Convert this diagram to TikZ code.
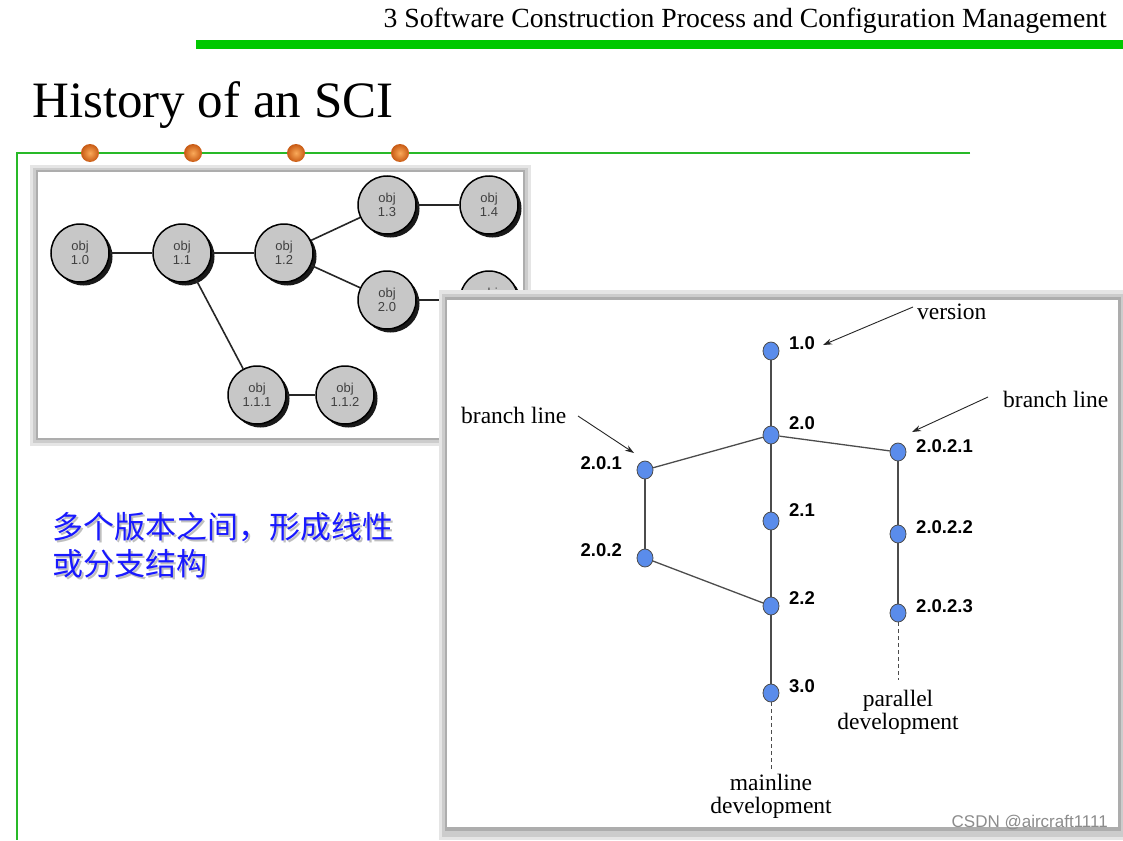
\documentclass[tikz,border=0pt]{standalone}
\usepackage{fontspec}
\setmainfont{Liberation Serif}
\newfontfamily\cjk{Noto Sans CJK SC}
\newfontfamily\arial{Liberation Sans}
\usetikzlibrary{arrows.meta,shadows,shapes.geometric}
\definecolor{hdrgreen}{RGB}{0,200,0}
\definecolor{thingreen}{RGB}{40,185,40}
\definecolor{dotorange}{RGB}{232,118,38}
\definecolor{dotlight}{RGB}{250,170,90}
\definecolor{dotdark}{RGB}{200,90,20}
\definecolor{vblue}{RGB}{90,140,235}
\definecolor{cnblue}{RGB}{25,25,255}
\begin{document}
\begin{tikzpicture}[x=1pt,y=-1pt,
  objnode/.style={circle, draw=black, line width=1.5pt, fill=black!22, minimum size=58pt, inner sep=0pt,
    font=\arial\fontsize{13}{14.5}\selectfont, text=black!75, align=center,
    drop shadow={shadow xshift=3.5pt, shadow yshift=-3.5pt, fill=black, opacity=0.9}},
  objline/.style={draw=black!85, line width=1.6pt},
  ver/.style={ellipse, draw=black!70, line width=0.8pt, fill=vblue, minimum width=16pt, minimum height=18pt, inner sep=0pt},
  vlab/.style={font=\arial\bfseries\fontsize{18.5}{19}\selectfont, inner sep=0pt},
  note/.style={font=\fontsize{23.5}{23}\selectfont, inner sep=0pt, align=center},
  vline/.style={draw=black!70, line width=1.3pt},
  noteArrow/.style={draw=black!85, line width=0.9pt, -{Stealth[length=9pt,width=6pt]}},
  dline/.style={draw=black!70, line width=1pt, dash pattern=on 4pt off 3pt},
  odot/.style={circle, inner sep=0pt, minimum size=18pt, inner color=dotlight, outer color=dotdark, draw=none}
]
\useasboundingbox (0,0) rectangle (1123,840);
\fill[white] (0,0) rectangle (1123,840);

% header
\node[anchor=east, inner sep=0pt, font=\fontsize{27.7}{28}\selectfont] (hdr) at (1107,21) {3 Software Construction Process and Configuration Management};
\fill[hdrgreen] (196,40) rectangle (1123,49);

% title
\node[anchor=west, inner sep=0pt, font=\fontsize{51}{51}\selectfont] (title) at (32,105) {History of an SCI};

% thin green frame lines
\draw[thingreen, line width=1.1pt] (970,153) -- (17,153) -- (17,840);
\foreach \i/\x in {1/90,2/193,3/296,4/400} \node[odot] (od\i) at (\x,153) {};

% left panel
\fill[black!10] (30,165) rectangle (531,446);
\fill[black!20] (33,168) rectangle (528,443);
\fill[black!32] (36,170) rectangle (525,440);
\fill[white] (38,172) rectangle (523,438);

\node[objnode] (o10) at (80,253) {obj\\1.0};
\node[objnode] (o11) at (182,253) {obj\\1.1};
\node[objnode] (o12) at (284,253) {obj\\1.2};
\node[objnode] (o13) at (387,205) {obj\\1.3};
\node[objnode] (o14) at (489,205) {obj\\1.4};
\node[objnode] (o20) at (387,300) {obj\\2.0};
\node[objnode] (o21) at (489,300) {obj\\2.1};
\node[objnode] (o111) at (257,395) {obj\\1.1.1};
\node[objnode] (o112) at (345,395) {obj\\1.1.2};
\draw[objline] (o10) -- (o11);
\draw[objline] (o11) -- (o12);
\draw[objline] (o12) -- (o13);
\draw[objline] (o13) -- (o14);
\draw[objline] (o12) -- (o20);
\draw[objline] (o20) -- (o21);
\draw[objline] (o11) -- (o111);
\draw[objline] (o111) -- (o112);

% Chinese text
\node[anchor=north west, inner sep=0pt, align=left, text=black!25, font=\cjk\fontsize{31}{37}\selectfont] (cnsh) at (54,514) {多个版本之间，形成线性\\或分支结构};
\node[anchor=north west, inner sep=0pt, align=left, text=cnblue, font=\cjk\fontsize{31}{37}\selectfont] (cn) at (52,512) {多个版本之间，形成线性\\或分支结构};

% right panel
\fill[black!10] (439,290) rectangle (1123,840);
\fill[black!20] (442,294) rectangle (1123,837);
\fill[black!32] (445,297) rectangle (1121,831);
\fill[white] (447,300) rectangle (1118,827);

\node[ver] (v10) at (771,351) {};
\node[ver] (v20) at (771,435) {};
\node[ver] (v21) at (771,521) {};
\node[ver] (v22) at (771,606) {};
\node[ver] (v30) at (771,693) {};
\node[ver] (v201) at (645,470) {};
\node[ver] (v202) at (645,558) {};
\node[ver] (v2021) at (898,452) {};
\node[ver] (v2022) at (898,534) {};
\node[ver] (v2023) at (898,613) {};

\draw[vline] (v10) -- (v20);
\draw[vline] (v20) -- (v21);
\draw[vline] (v21) -- (v22);
\draw[vline] (v22) -- (v30);
\draw[vline] (v20) -- (v201);
\draw[vline] (v20) -- (v2021);
\draw[vline] (v201) -- (v202);
\draw[vline] (v202) -- (v22);
\draw[vline] (v2021) -- (v2022);
\draw[vline] (v2022) -- (v2023);

\node[vlab, anchor=west] (l10) at (789,343) {1.0};
\node[vlab, anchor=west] (l20) at (789,423) {2.0};
\node[vlab, anchor=west] (l21) at (789,510) {2.1};
\node[vlab, anchor=west] (l22) at (789,598) {2.2};
\node[vlab, anchor=west] (l30) at (789,686) {3.0};
\node[vlab, anchor=east] (l201) at (622,463) {2.0.1};
\node[vlab, anchor=east] (l202) at (622,550) {2.0.2};
\node[vlab, anchor=west] (l2021) at (916,446) {2.0.2.1};
\node[vlab, anchor=west] (l2022) at (916,527) {2.0.2.2};
\node[vlab, anchor=west] (l2023) at (916,606) {2.0.2.3};

\node[note, anchor=west] (nver) at (917,312) {version};
\node[note, anchor=west] (nbl) at (461,415) {branch line};
\node[note, anchor=west] (nbr) at (1003,399) {branch line};
\node[note] (npar) at (898,712) {parallel\\development};
\node[note] (nmain) at (771,796) {mainline\\development};

\coordinate (a1s) at (913,307); \coordinate (a1e) at (823,345);
\coordinate (a2s) at (578,416); \coordinate (a2e) at (634,453);
\coordinate (a3s) at (988,397); \coordinate (a3e) at (912,432);
\draw[noteArrow] (a1s) -- (a1e);
\draw[noteArrow] (a2s) -- (a2e);
\draw[noteArrow] (a3s) -- (a3e);

\coordinate (d1) at (898,680);
\coordinate (d2) at (771,770);
\draw[dline] (v2023) -- (d1);
\draw[dline] (v30) -- (d2);

\node[anchor=east, inner sep=0pt, text=black!45, font=\arial\fontsize{17}{17}\selectfont] (wm) at (1108,823) {CSDN @aircraft1111};
\end{tikzpicture}
\end{document}
